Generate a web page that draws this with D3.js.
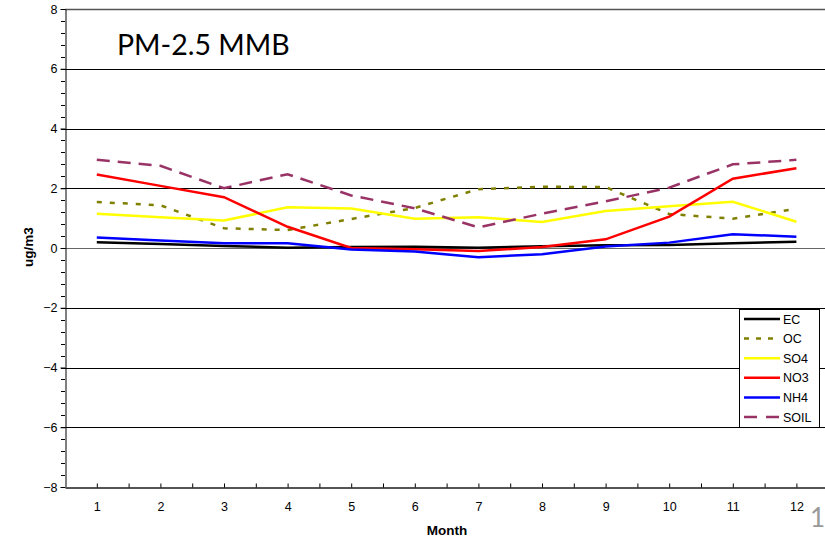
<!DOCTYPE html>
<html>
<head>
<meta charset="utf-8">
<script src="https://cdn.jsdelivr.net/npm/d3@7"></script>
<style>
  body { margin: 0; background: #fff; }
  text { font-family: Arial, "Liberation Sans", sans-serif; }
</style>
</head>
<body>
<div id="chart"></div>
<script>
// chart data
var months = [1, 2, 3, 4, 5, 6, 7, 8, 9, 10, 11, 12];
var seriesNames = ["EC", "OC", "SO4", "NO3", "NH4", "SOIL"];
var ec   = [0.19, 0.13, 0.07, 0.01, 0.03, 0.04, 0.01, 0.06, 0.09, 0.10, 0.16, 0.21];
var oc   = [1.54, 1.43, 0.66, 0.60, 0.97, 1.34, 1.97, 2.05, 2.04, 1.14, 0.98, 1.31];
var so4  = [1.15, 1.03, 0.92, 1.36, 1.32, 0.98, 1.03, 0.87, 1.24, 1.40, 1.55, 0.88];
var no3  = [2.46, 2.08, 1.70, 0.71, 0.00, -0.04, -0.10, 0.03, 0.29, 1.05, 2.32, 2.67];
var nh4  = [0.35, 0.25, 0.16, 0.16, -0.05, -0.12, -0.31, -0.21, 0.05, 0.18, 0.46, 0.38];
var soil = [2.95, 2.75, 2.00, 2.47, 1.76, 1.33, 0.69, 1.15, 1.56, 2.02, 2.80, 2.95];
var yTicks = [-8, -6, -4, -2, 0, 2, 4, 6, 8];

var width = 825, height = 538;
var plotLeft = 65, plotTop = 9, plotBottom = 487;
var step = 63.6;

var svg = d3.select("#chart").append("svg")
  .attr("width", width)
  .attr("height", height);

var x = d3.scaleLinear().domain([0.5, 12.5]).range([plotLeft, plotLeft + step * 12]);
var y = d3.scaleLinear().domain([-8, 8]).range([plotBottom, plotTop]);

// gridlines
svg.append("g").selectAll("line")
  .data(yTicks.filter(function(d) { return d > -8; }))
  .enter().append("line")
  .attr("x1", plotLeft).attr("x2", width)
  .attr("y1", function(d) { return Math.round(y(d)) + 0.5; })
  .attr("y2", function(d) { return Math.round(y(d)) + 0.5; })
  .attr("stroke", function(d) { return d === 8 ? "#555" : (d === 0 ? "#666" : "#000"); })
  .attr("stroke-width", function(d) { return d === 8 ? 1.5 : 1; });

// y axis with minor ticks
var minor = d3.range(-8, 8.01, 0.4);
svg.append("g").selectAll("line")
  .data(minor)
  .enter().append("line")
  .attr("x1", plotLeft - 4).attr("x2", plotLeft)
  .attr("y1", function(d) { return Math.round(y(d)) + 0.5; })
  .attr("y2", function(d) { return Math.round(y(d)) + 0.5; })
  .attr("stroke", "#000");

var yAxis = svg.append("g")
  .attr("transform", "translate(" + (plotLeft + 0.5) + ",0)")
  .call(d3.axisLeft(y).tickValues(yTicks).tickSize(5).tickSizeOuter(0).tickPadding(3));
yAxis.select(".domain").attr("stroke", "#000");
yAxis.selectAll("text").attr("font-size", 12.5).attr("fill", "#000")
  .style("font-family", "Arial, 'Liberation Sans', sans-serif");

// x axis, ticks pointing up every half month
var xAxis = svg.append("g")
  .attr("transform", "translate(0," + (plotBottom + 0.5) + ")")
  .call(d3.axisBottom(x).tickValues(d3.range(1, 12.6, 0.5)).tickSize(-4).tickSizeOuter(0)
    .tickPadding(15)
    .tickFormat(function(d) { return d % 1 === 0 ? d : ""; }));
xAxis.select(".domain").attr("stroke", "#555").attr("stroke-width", 2);
xAxis.selectAll(".tick line").attr("stroke", "#000");
xAxis.selectAll("text").attr("font-size", 12.5).attr("fill", "#000")
  .style("font-family", "Arial, 'Liberation Sans', sans-serif");

// series
var series = [
  { name: "EC",   values: ec,   color: "#000000", dash: null },
  { name: "OC",   values: oc,   color: "#808000", dash: "5,8" },
  { name: "SO4",  values: so4,  color: "#FFFF00", dash: null },
  { name: "NO3",  values: no3,  color: "#FF0000", dash: null },
  { name: "NH4",  values: nh4,  color: "#0000FF", dash: null },
  { name: "SOIL", values: soil, color: "#993366", dash: "13,8" }
];

var line = d3.line()
  .x(function(d, i) { return x(months[i]); })
  .y(function(d) { return y(d); });

svg.append("g").selectAll("path")
  .data(series)
  .enter().append("path")
  .attr("d", function(s) { return line(s.values); })
  .attr("fill", "none")
  .attr("stroke", function(s) { return s.color; })
  .attr("stroke-width", 2.5)
  .attr("stroke-dasharray", function(s) { return s.dash; });

// legend
var legend = svg.append("g");
legend.append("rect")
  .attr("x", 739.5).attr("y", 309.5)
  .attr("width", 80).attr("height", 118)
  .attr("fill", "#fff").attr("stroke", "#000");
var items = legend.selectAll("g.item")
  .data(series)
  .enter().append("g")
  .attr("transform", function(d, i) { return "translate(0," + (319 + i * 19.6) + ")"; });
items.append("line")
  .attr("x1", 744).attr("x2", 780)
  .attr("stroke", function(s) { return s.color; })
  .attr("stroke-width", 2.5)
  .attr("stroke-dasharray", function(s) {
    return s.name === "OC" ? "5,7" : (s.name === "SOIL" ? "13,9" : null);
  });
items.append("text")
  .attr("x", 783).attr("y", 4.5)
  .attr("font-size", 12.5)
  .text(function(s) { return s.name; });

// titles
svg.append("text")
  .attr("x", 117).attr("y", 55)
  .attr("font-size", 28.5)
  .style("font-family", "Lato, 'Open Sans', sans-serif")
  .text("PM-2.5 MMB");

svg.append("text")
  .attr("transform", "translate(33,247) rotate(-90)")
  .attr("text-anchor", "middle")
  .attr("font-size", 13.5).attr("font-weight", "bold")
  .text("ug/m3");

svg.append("text")
  .attr("x", 447).attr("y", 535)
  .attr("text-anchor", "middle")
  .attr("font-size", 13.5).attr("font-weight", "bold")
  .text("Month");

svg.append("text")
  .attr("x", 810).attr("y", 527)
  .attr("font-size", 26)
  .attr("fill", "#999")
  .style("font-family", "Lato, 'Open Sans', sans-serif")
  .text("1");
</script>
</body>
</html>
